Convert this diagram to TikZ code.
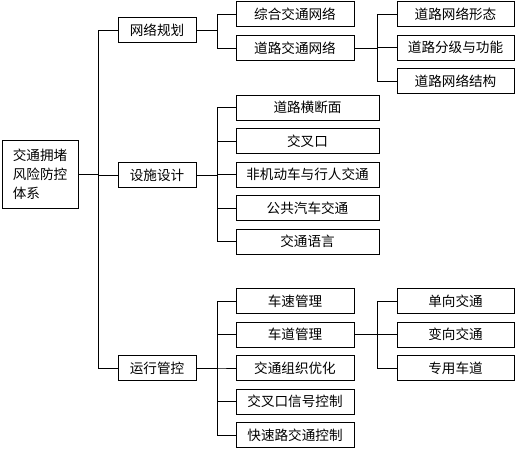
\documentclass[tikz,border=0pt]{standalone}
\usepackage{fontspec}
\setmainfont{Noto Sans CJK SC}
\usetikzlibrary{positioning}

\tikzset{
  box/.style={draw=black, line width=0.8pt, inner sep=0pt, outer sep=0pt,
    minimum height=25, font=\fontsize{13.6}{19}\selectfont},
  firstbox/.style={box, minimum width=78},
  subbox/.style={box, minimum width=118},
  widebox/.style={box, minimum width=143},
  leafbox/.style={box, minimum width=117},
  link/.style={line width=0.8pt}
}

\begin{document}
\begin{tikzpicture}[x=1pt,y=-1pt]
\useasboundingbox (0,0) rectangle (516,449);
% root
\node[box, minimum width=76, minimum height=68, align=left] (root) at (40,174)
  {交通拥堵\\风险防控\\体系};
% first level
\node[firstbox] (plan) at (157,30) {网络规划};
\node[firstbox] (facility) at (157,175) {设施设计};
\node[firstbox] (operate) at (157,368) {运行管控};
% network planning
\node[subbox] (plana) at (295,14) {综合交通网络};
\node[subbox] (planb) at (295,48) {道路交通网络};
\node[leafbox] (roada) at (455.5,14) {道路网络形态};
\node[leafbox] (roadb) at (455.5,47.5) {道路分级与功能};
\node[leafbox] (roadc) at (455.5,81) {道路网络结构};
% facility design
\node[widebox] (faca) at (307.5,107.5) {道路横断面};
\node[widebox] (facb) at (307.5,141) {交叉口};
\node[widebox] (facc) at (307.5,174.5) {非机动车与行人交通};
\node[widebox] (facd) at (307.5,208) {公共汽车交通};
\node[widebox] (face) at (307.5,241.5) {交通语言};
% operation control
\node[subbox] (opa) at (295,301) {车速管理};
\node[subbox] (opb) at (295,334.5) {车道管理};
\node[subbox] (opc) at (295,368) {交通组织优化};
\node[subbox] (opd) at (295,401.5) {交叉口信号控制};
\node[subbox] (ope) at (295,435) {快速路交通控制};
\node[leafbox] (lanea) at (455.5,301) {单向交通};
\node[leafbox] (laneb) at (455.5,334.5) {变向交通};
\node[leafbox] (lanec) at (455.5,368) {专用车道};
% connectors
\foreach \c in {plan,facility,operate}
  \draw[link] (root.east) -- ++(20,0) |- (\c.west);
\foreach \c in {plana,planb}
  \draw[link] (plan.east) -- ++(21,0) |- (\c.west);
\foreach \c in {roada,roadb,roadc}
  \draw[link] (planb.east) -- ++(23,0) |- (\c.west);
\foreach \c in {faca,facb,facc,facd,face}
  \draw[link] (facility.east) -- ++(21,0) |- (\c.west);
\foreach \c in {opa,opb,opc,opd,ope}
  \draw[link] (operate.east) -- ++(21,0) |- (\c.west);
\foreach \c in {lanea,laneb,lanec}
  \draw[link] (opb.east) -- ++(23,0) |- (\c.west);
\end{tikzpicture}
\end{document}
